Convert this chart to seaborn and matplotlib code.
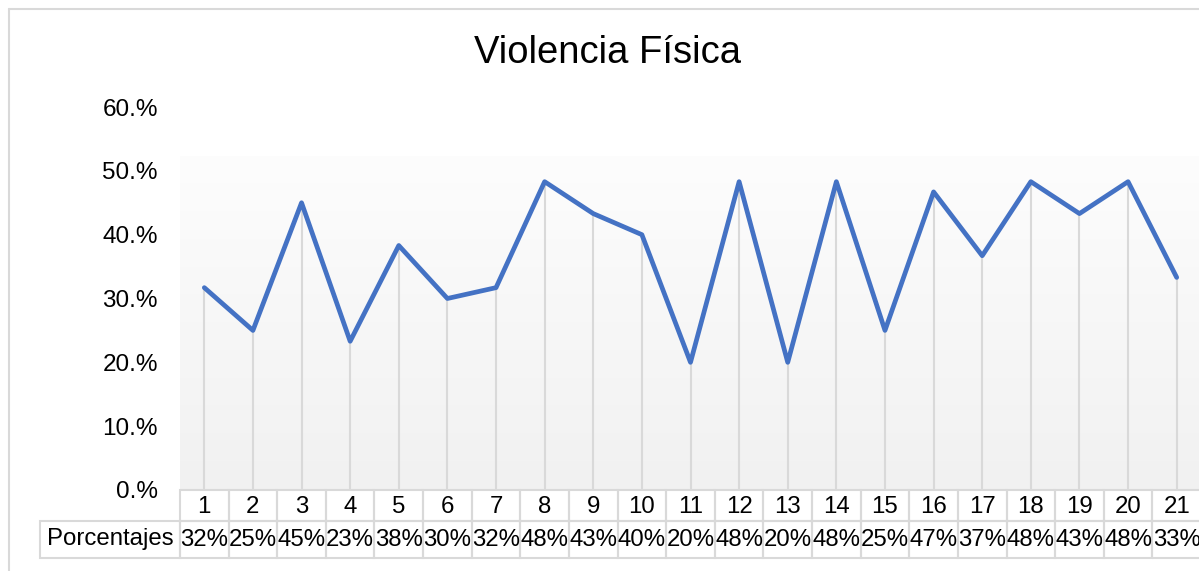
import numpy as np
import matplotlib
matplotlib.use("Agg")
import matplotlib.pyplot as plt
from matplotlib.patches import Rectangle
import seaborn as sns

# datos
categorias = list(range(1, 22))
porcentajes = [0.317, 0.250, 0.450, 0.233, 0.383, 0.300, 0.317, 0.483, 0.433, 0.400, 0.200,
               0.483, 0.200, 0.483, 0.250, 0.467, 0.367, 0.483, 0.433, 0.483, 0.333]
etiquetas_tabla = ["32%", "25%", "45%", "23%", "38%", "30%", "32%", "48%", "43%", "40%", "20%",
                   "48%", "20%", "48%", "25%", "47%", "37%", "48%", "43%", "48%", "33%"]
y_ticks = [0.0, 0.1, 0.2, 0.3, 0.4, 0.5, 0.6]
y_labels = ["0.%", "10.%", "20.%", "30.%", "40.%", "50.%", "60.%"]
titulo = "Violencia Física"
nombre_fila = "Porcentajes"

sns.set_style("white")
plt.rcParams['font.family'] = ['Liberation Sans', 'DejaVu Sans']
plt.rcParams['text.color'] = 'black'
plt.rcParams['ytick.color'] = 'black'

W, H = 1199, 571
fig = plt.figure(figsize=(W / 100, H / 100), dpi=100)
# ejes en pixeles: x 180..1201, y 107..490
ax = fig.add_axes([180 / W, (H - 490) / H, 1021 / W, 383 / H])

# fondo degradado del area de trazado
top = 0.5217
grad = np.linspace(0, 1, 256).reshape(-1, 1)
c_top = np.array([0.992, 0.992, 0.992])
c_bot = np.array([0.945, 0.945, 0.945])
img = c_top + (c_bot - c_top) * grad
ax.imshow(img.reshape(256, 1, 3), extent=[0.5, 21.5, 0, top], aspect='auto', zorder=0)

# lineas de caida
ax.vlines(categorias, 0, porcentajes, color='#d9d9d9', lw=1.5, zorder=1)
sns.lineplot(x=categorias, y=porcentajes, ax=ax, color='#4472c4', lw=3.4, zorder=3)

ax.set_xlim(0.5, 21.5)
ax.set_ylim(0, 0.6)
ax.set_yticks(y_ticks)
ax.set_yticklabels(y_labels, fontsize=17.5, color='black')
ax.tick_params(axis='y', length=0, pad=16)
ax.set_xticks([])
for s in ax.spines.values():
    s.set_visible(False)

# tabla de datos
tr = ax.get_xaxis_transform()
r1_top, r1_bot, r2_bot = 0.0, -31 / 383, -68 / 383
borde = '#d9d9d9'
fs = 17.3
for i, c in enumerate(categorias):
    ax.add_patch(Rectangle((c - 0.5, r1_bot), 1, r1_top - r1_bot, transform=tr, fill=False,
                           ec=borde, lw=1.5, clip_on=False))
    ax.add_patch(Rectangle((c - 0.5, r2_bot), 1, r1_bot - r2_bot, transform=tr, fill=False,
                           ec=borde, lw=1.5, clip_on=False))
    ax.text(c, (r1_top + r1_bot) / 2 - 0.004, str(c), transform=tr, ha='center', va='center',
            fontsize=fs, clip_on=False)
    ax.text(c, (r1_bot + r2_bot) / 2, etiquetas_tabla[i], transform=tr, ha='center',
            va='center', fontsize=fs, clip_on=False)
x_lab = (40 - 180) / (1021 / 21) + 0.5
ax.add_patch(Rectangle((x_lab, r2_bot), 0.5 - x_lab, r1_bot - r2_bot, transform=tr, fill=False,
                       ec=borde, lw=1.5, clip_on=False))
ax.text((x_lab + 0.5) / 2, (r1_bot + r2_bot) / 2, nombre_fila, transform=tr, ha='center',
        va='center', fontsize=fs, clip_on=False)

fig.text(607 / W, 1 - 53 / H, titulo, ha='center', va='center', fontsize=27.5, color='black')

# borde del grafico
fig.add_artist(plt.Line2D([9 / W, 1], [1 - 9 / H, 1 - 9 / H], color='#d9d9d9', lw=1.5))
fig.add_artist(plt.Line2D([9 / W, 9 / W], [0, 1 - 9 / H], color='#d9d9d9', lw=1.5))

fig.savefig("out.png", dpi=100)
